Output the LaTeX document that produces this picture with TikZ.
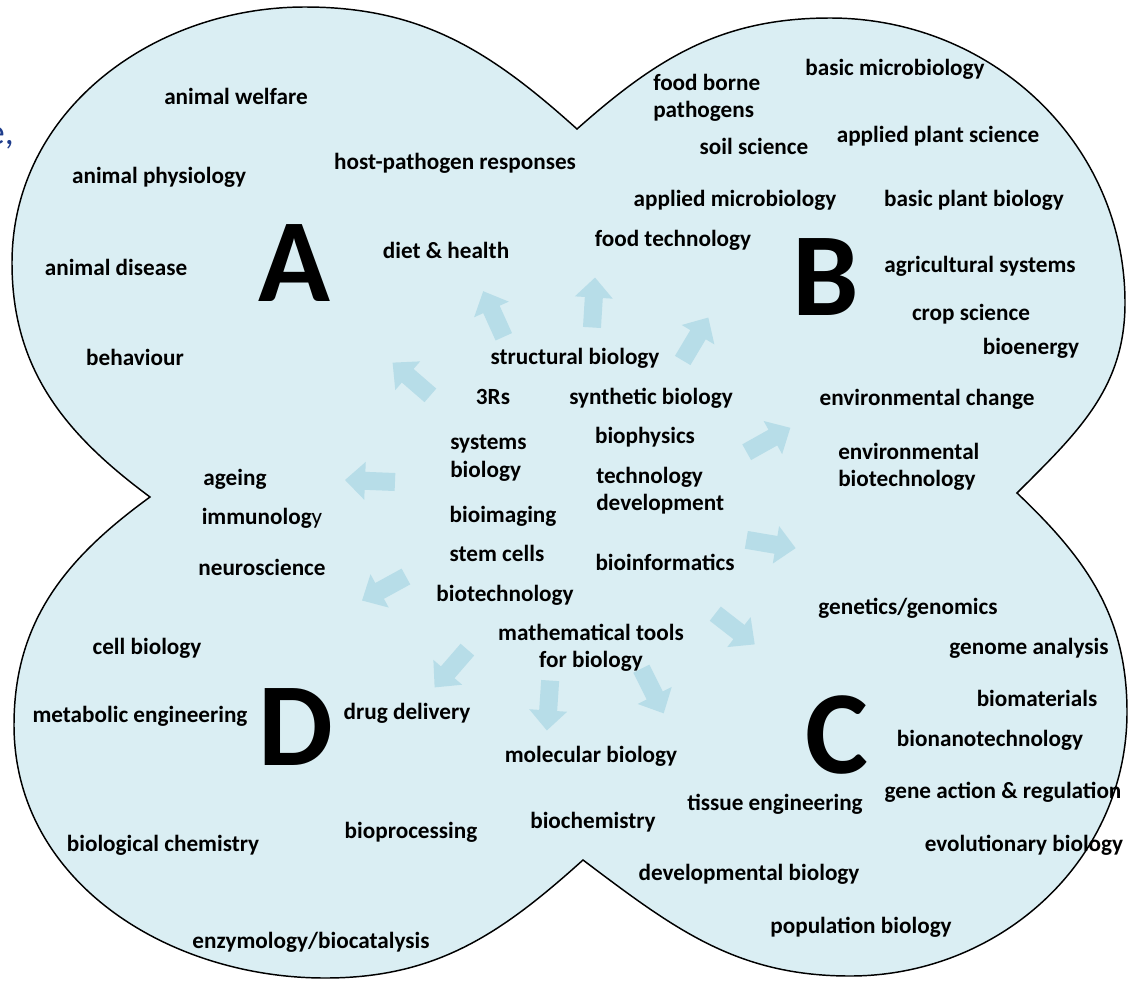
\documentclass[tikz,border=0pt]{standalone}
\usepackage{fontspec}
\setmainfont{Carlito}
\usetikzlibrary{positioning}

\definecolor{lobefill}{HTML}{DAEEF3}
\definecolor{flowfill}{HTML}{B7DDE8}
\definecolor{navy}{HTML}{1F3D8C}

\tikzset{
  topic/.style={font=\fontsize{17.4}{20.5}\selectfont\bfseries, inner sep=0pt, text height=12.5pt, text depth=0pt},
  topictwo/.style={font=\fontsize{17.4}{20.5}\selectfont\bfseries, inner sep=0pt, align=left},
  letter/.style={font=\fontsize{89}{89}\selectfont\bfseries, inner sep=0pt, text height=57.5pt, text depth=0pt},
  pics/flow/.style={code={
    \fill[flowfill] (-25,-9) -- (5,-9) -- (5,-19) -- (25,0) -- (5,19) -- (5,9) -- (-25,9) -- cycle;}}
}

\begin{document}
\begin{tikzpicture}[x=0.75pt,y=0.75pt]
\useasboundingbox (0,0) rectangle (1128,-982);

% outline of the four lobes
\coordinate (N) at (577,-129);  % notch between A and B
\coordinate (TA) at (305,-7);
\coordinate (LA) at (12,-263);
\coordinate (W) at (150,-497);  % notch between A and D
\coordinate (LD) at (14,-725);
\coordinate (BD) at (325,-978);
\coordinate (S) at (583,-860);  % notch between D and C
\coordinate (BC) at (850,-976);
\coordinate (RC) at (1127,-712);
\coordinate (E) at (1017,-493); % notch between C and B
\coordinate (RB) at (1125,-303);
\coordinate (TB) at (830,-18);

\filldraw[fill=lobefill, draw=black, line width=1.1pt]
  (N) to[out=138,in=0] (TA) to[out=180,in=90] (LA)
  to[out=270,in=143.5] (W) to[out=216,in=90] (LD)
  to[out=270,in=180] (BD) to[out=0,in=222] (S)
  to[out=-37,in=180] (BC) to[out=0,in=270] (RC)
  to[out=90,in=-43.5] (E) to[out=45,in=270] (RB)
  to[out=90,in=0] (TB) to[out=180,in=41.6] cycle;

% cut-off text at the left edge
\node[font=\fontsize{27}{30}\selectfont, text=navy, anchor=base east, inner sep=0pt] (cut) at (14,-144) {e,};

% flow arrows out of the centre
\pic[rotate=114.3] (fl1) at (493.5,-314) {flow};
\pic[rotate=86.5] (fl2) at (593.5,-302.5) {flow};
\pic[rotate=59.2] (fl3) at (695.5,-339) {flow};
\pic[rotate=139.1] (fl4) at (411.5,-379) {flow};
\pic[rotate=177.7] (fl5) at (370,-481) {flow};
\pic[rotate=208.7] (fl6) at (384,-588.5) {flow};
\pic[rotate=229.1] (fl7) at (451,-668.5) {flow};
\pic[rotate=266.2] (fl8) at (548.5,-705.5) {flow};
\pic[rotate=-63.4] (fl9) at (652.5,-691) {flow};
\pic[rotate=-37.9] (fl10) at (735,-629) {flow};
\pic[rotate=-9.5] (fl11) at (771,-544) {flow};
\pic[rotate=29.2] (fl12) at (768.5,-440) {flow};

% lobe letters
\node[letter] (labA) at (294,-263) {A};
\node[letter] (labB) at (826,-277) {B};
\node[letter] (labC) at (837,-735) {C};
\node[letter] (labD) at (296,-727) {D};

% lobe A
\node[topic] (aw) at (236,-96) {animal welfare};
\node[topic] (aph) at (159,-175) {animal physiology};
\node[topic] (hpr) at (455,-161) {host-pathogen responses};
\node[topic] (dh) at (446,-250) {diet \& health};
\node[topic] (ad) at (116,-267) {animal disease};
\node[topic] (beh) at (135,-357) {behaviour};

% lobe B
\node[topictwo, anchor=west] (fbp) at (653,-98) {food borne\\pathogens};
\node[topic] (bmi) at (895,-67) {basic microbiology};
\node[topic] (ss) at (754,-146) {soil science};
\node[topic] (aps) at (938,-134) {applied plant science};
\node[topic] (ami) at (735,-198) {applied microbiology};
\node[topic] (bpb) at (974,-198) {basic plant biology};
\node[topic] (ft) at (673,-238) {food technology};
\node[topic] (agr) at (980,-264) {agricultural systems};
\node[topic] (cs) at (971,-312) {crop science};
\node[topic] (ben) at (1031,-346) {bioenergy};
\node[topic] (envc) at (927,-397) {environmental change};
\node[topictwo, anchor=west] (envb) at (838,-467) {environmental\\biotechnology};

% centre
\node[topic] (sb) at (575,-356) {structural biology};
\node[topic] (thr) at (493,-396) {3Rs};
\node[topic] (syn) at (651,-396) {synthetic biology};
\node[topictwo, anchor=west] (sys) at (450,-458) {systems\\biology};
\node[topic] (bph) at (645,-435) {biophysics};
\node[topictwo, anchor=west] (td) at (596,-491) {technology\\development};
\node[topic] (bim) at (503,-514) {bioimaging};
\node[topic] (stc) at (497,-553) {stem cells};
\node[topic] (binf) at (665,-562) {bioinformatics};
\node[topic] (btec) at (505,-593) {biotechnology};
\node[topictwo, align=center] (mt) at (591,-648) {mathematical tools\\for biology};

% between A and D
\node[topic] (age) at (235,-477) {ageing};
\node[topic] (imm) at (262,-516) {immunolog{\mdseries y}};
\node[topic] (neu) at (262,-567) {neuroscience};

% lobe D
\node[topic] (cb) at (147,-646) {cell biology};
\node[topic] (me) at (140,-714) {metabolic engineering};
\node[topic] (dd) at (407,-711) {drug delivery};
\node[topic] (mb) at (591,-754) {molecular biology};
\node[topic] (bc) at (163,-843) {biological chemistry};
\node[topic] (bp) at (411,-830) {bioprocessing};
\node[topic] (bch) at (593,-820) {biochemistry};
\node[topic] (enz) at (311,-940) {enzymology/biocatalysis};

% lobe C
\node[topic] (gg) at (908,-606) {genetics/genomics};
\node[topic] (ga) at (1029,-646) {genome analysis};
\node[topic] (bmat) at (1037,-698) {biomaterials};
\node[topic] (bnano) at (990,-738) {bionanotechnology};
\node[topic] (te) at (775,-802) {tissue engineering};
\node[topic] (gar) at (1003,-790) {gene action \& regulation};
\node[topic] (evo) at (1024,-843) {evolutionary biology};
\node[topic] (dev) at (749,-872) {developmental biology};
\node[topic] (pop) at (861,-925) {population biology};

\end{tikzpicture}
\end{document}
